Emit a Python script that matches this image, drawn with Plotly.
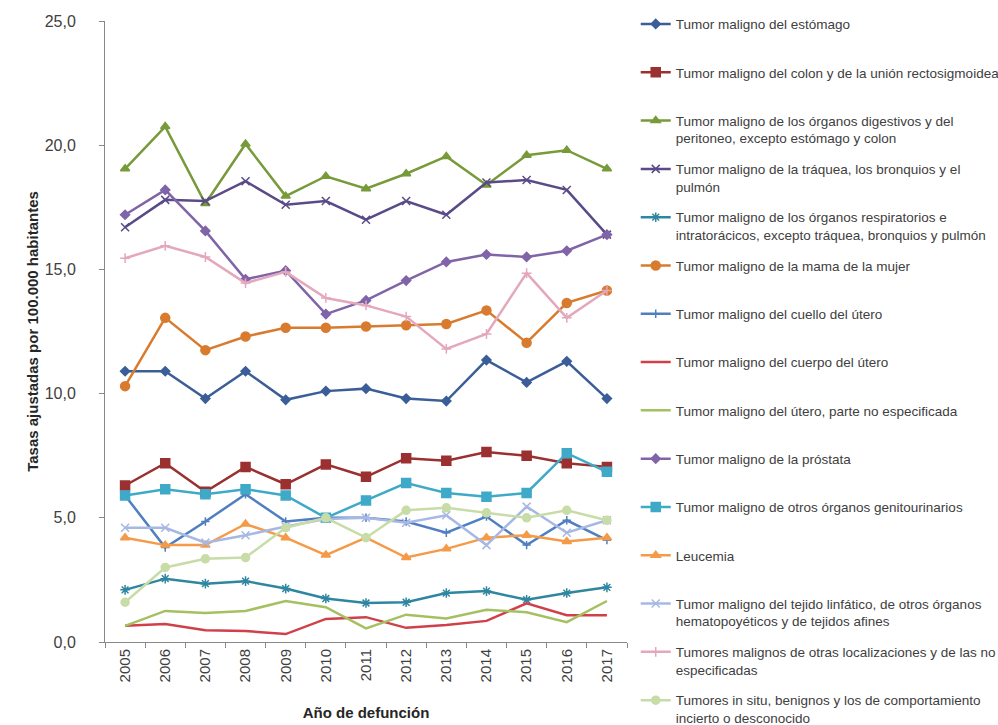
import plotly.graph_objects as go

years = [str(y) for y in range(2005, 2018)]

names = [
    "Tumor maligno del estómago",
    "Tumor maligno del colon y de la unión rectosigmoidea",
    "Tumor maligno de los órganos digestivos y del<br>peritoneo, excepto estómago y colon",
    "Tumor maligno de la tráquea, los bronquios y el<br>pulmón",
    "Tumor maligno de los órganos respiratorios e<br>intratorácicos, excepto tráquea, bronquios y pulmón",
    "Tumor maligno de la mama de la mujer",
    "Tumor maligno del cuello del útero",
    "Tumor maligno del cuerpo del útero",
    "Tumor maligno del útero, parte no especificada",
    "Tumor maligno de la próstata",
    "Tumor maligno de otros órganos genitourinarios",
    "Leucemia",
    "Tumor maligno del tejido linfático, de otros órganos<br>hematopoyéticos y de tejidos afines",
    "Tumores malignos de otras localizaciones y de las no<br>especificadas",
    "Tumores in situ, benignos y los de comportamiento<br>incierto o desconocido",
]

estomago = [10.9, 10.9, 9.8, 10.9, 9.75, 10.1, 10.2, 9.8, 9.7, 11.35, 10.45, 11.3, 9.8]
colon = [6.3, 7.2, 6.05, 7.05, 6.35, 7.15, 6.65, 7.4, 7.3, 7.65, 7.5, 7.2, 7.05]
digestivos = [19.05, 20.75, 17.65, 20.05, 17.95, 18.75, 18.25, 18.85, 19.55, 18.4, 19.6, 19.8, 19.05]
traquea = [16.7, 17.8, 17.75, 18.55, 17.6, 17.75, 17.0, 17.75, 17.2, 18.5, 18.6, 18.2, 16.4]
respiratorios = [2.1, 2.55, 2.35, 2.45, 2.15, 1.75, 1.57, 1.6, 1.97, 2.05, 1.7, 1.97, 2.2]
mama = [10.3, 13.05, 11.75, 12.3, 12.65, 12.65, 12.7, 12.75, 12.8, 13.35, 12.05, 13.65, 14.15]
cuello = [5.9, 3.8, 4.85, 5.95, 4.85, 5.0, 5.0, 4.85, 4.4, 5.05, 3.9, 4.9, 4.1]
cuerpo = [0.65, 0.72, 0.47, 0.44, 0.32, 0.93, 1.0, 0.57, 0.68, 0.85, 1.56, 1.08, 1.08]
utero_ne = [0.65, 1.25, 1.17, 1.25, 1.65, 1.4, 0.55, 1.1, 0.95, 1.3, 1.2, 0.8, 1.65]
prostata = [17.2, 18.2, 16.55, 14.6, 14.95, 13.2, 13.75, 14.55, 15.3, 15.6, 15.5, 15.75, 16.4]
genitourinarios = [5.9, 6.15, 5.95, 6.15, 5.9, 5.0, 5.7, 6.4, 6.0, 5.85, 6.0, 7.6, 6.85]
leucemia = [4.2, 3.9, 3.9, 4.75, 4.2, 3.5, 4.2, 3.4, 3.75, 4.2, 4.3, 4.05, 4.2]
linfatico = [4.6, 4.6, 4.0, 4.3, 4.65, 4.95, 5.0, 4.8, 5.1, 3.9, 5.45, 4.4, 4.9]
otras = [15.45, 15.95, 15.5, 14.45, 14.9, 13.85, 13.55, 13.1, 11.8, 12.4, 14.85, 13.05, 14.15]
in_situ = [1.6, 3.0, 3.35, 3.4, 4.6, 5.0, 4.2, 5.3, 5.4, 5.2, 5.0, 5.3, 4.9]

series = [estomago, colon, digestivos, traquea, respiratorios, mama, cuello, cuerpo,
          utero_ne, prostata, genitourinarios, leucemia, linfatico, otras, in_situ]

colors = ["#3B5E98", "#9A3030", "#779A3A", "#5A4A88", "#2F86A0", "#D97B2E", "#4F7FC0",
          "#D0404A", "#A4C060", "#8064A8", "#3FA9C8", "#F59A48", "#A7B8E4", "#E4A8BC", "#C8DCA8"]
symbols = ["diamond", "square", "triangle-up", "x-thin-open", "asterisk-open", "circle",
           "cross-thin-open", None, None, "diamond", "square", "triangle-up",
           "x-thin-open", "cross-thin-open", "circle"]
sizes = [7, 9, 8, 8, 8, 9, 6, 0, 0, 7, 9, 8, 8, 7, 8]

fig = go.Figure()
for i, (nm, vals) in enumerate(zip(names, series)):
    label = nm if "<br>" in nm else nm + "<br> "
    sym = symbols[i]
    mode = "lines+markers" if sym else "lines"
    marker = dict(symbol=sym, size=sizes[i], color=colors[i],
                  line=dict(color=colors[i], width=1.5)) if sym else None
    fig.add_trace(go.Scatter(
        x=years, y=vals, name=label, mode=mode,
        line=dict(color=colors[i], width=2.5),
        marker=marker, legendgroup=f"g{i}",
    ))

fig.update_layout(
    width=998, height=725,
    margin=dict(l=105, r=371, t=21, b=83),
    paper_bgcolor="white", plot_bgcolor="white",
    separators=",.",
    font=dict(family="Liberation Sans, Arial, sans-serif", color="#404040"),
    showlegend=True,
    legend=dict(
        xref="container", yref="container",
        x=0.637, y=0.988, xanchor="left", yanchor="top",
        font=dict(family="Liberation Sans, Arial, sans-serif", size=13.5, color="#404040"),
        tracegroupgap=10.2, valign="top", itemwidth=30, maxheight=725,
        bgcolor="rgba(0,0,0,0)",
    ),
    xaxis=dict(
        type="category", tickson="boundaries", ticks="outside", ticklen=5,
        tickcolor="#888888", showline=True, linecolor="#888888", linewidth=1,
        showgrid=False, tickangle=-90, tickfont=dict(size=15, color="#404040"),
        title=dict(text="<b>Año de defunción</b>", font=dict(size=15, color="#262626"), standoff=26),
        range=[-0.5, 12.5], automargin=False,
    ),
    yaxis=dict(
        range=[0, 25], dtick=5, tickformat=".1f", ticks="outside", ticklen=5,
        tickcolor="#888888", showline=True, linecolor="#888888", linewidth=1,
        showgrid=False, zeroline=False, tickfont=dict(size=16, color="#404040"),
        ticklabelstandoff=20, automargin=False,
        title=dict(text="<b>Tasas ajustadas por 100.000 habitantes</b>",
                   font=dict(size=15, color="#262626"), standoff=2),
    ),
)

fig.write_html("out.html")
